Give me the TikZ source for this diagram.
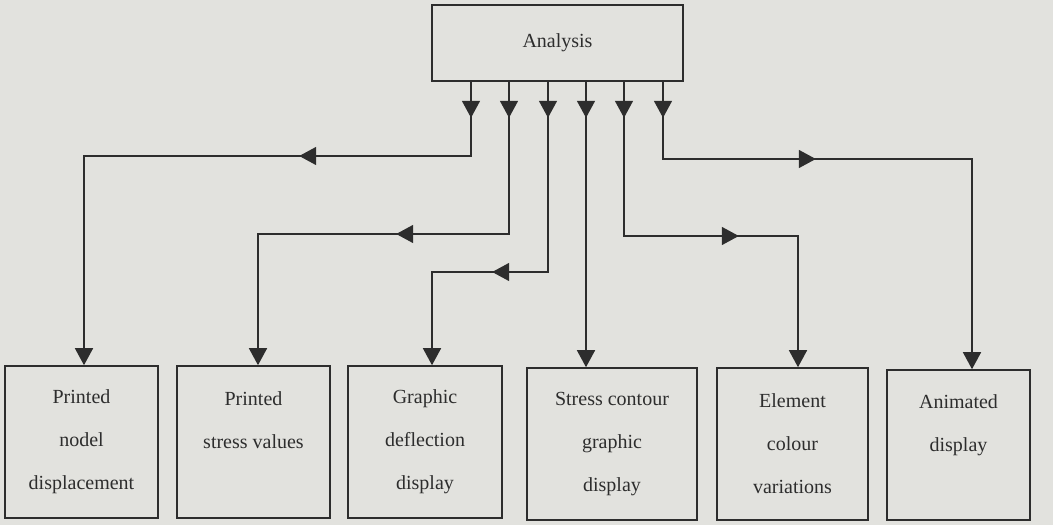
\documentclass[tikz,border=0pt]{standalone}
\usepackage{fontspec}
\setmainfont{Liberation Serif}
\usetikzlibrary{arrows.meta,decorations.markings}
\definecolor{bg}{RGB}{226,226,222}
\definecolor{ink}{RGB}{45,45,45}
\begin{document}
\begin{tikzpicture}[x=1pt,y=1pt,
  box/.style={draw=ink, line width=1.6pt, minimum height=152pt, inner sep=0pt,
    align=center, font=\fontsize{20}{43}\selectfont, text=ink},
  topbox/.style={draw=ink, line width=1.6pt, minimum width=251pt, minimum height=76pt,
    inner sep=0pt, font=\fontsize{20}{24}\selectfont, text=ink},
  conn/.style={color=ink, line width=1.6pt, -{Triangle[width=18pt,length=17pt]}},
  onetip/.style={postaction={decorate}, decoration={markings,
    mark=at position #1 with {\arrow{Triangle[width=18pt,length=17pt]}}}},
  twotips/.style 2 args={postaction={decorate}, decoration={markings,
    mark=at position #1 with {\arrow{Triangle[width=18pt,length=17pt]}},
    mark=at position #2 with {\arrow{Triangle[width=18pt,length=17pt]}}}},
]
\fill[bg] (0,0) rectangle (1053,525);
\useasboundingbox (0,0) rectangle (1053,525);

\node[topbox] (A) at (557.5,482) {Analysis};

\node[box, minimum width=153pt] (b1) at (81.5,83) {Printed\\nodel\\displacement};
\node[box, minimum width=153pt] (b2) at (253.5,83) {Printed\\stress values\\\mbox{}};
\node[box, minimum width=154pt] (b3) at (425,83) {Graphic\\deflection\\display};
\node[box, minimum width=170pt] (b4) at (612,81) {Stress contour\\graphic\\display};
\node[box, minimum width=151pt] (b5) at (792.5,81) {Element\\colour\\variations};
\node[box, minimum width=143pt, minimum height=150pt] (b6) at (958.5,80) {Animated\\display\\\mbox{}};

\coordinate (x1) at (471,0);
\coordinate (x2) at (509,0);
\coordinate (x3) at (548,0);
\coordinate (x4) at (586,0);
\coordinate (x5) at (624,0);
\coordinate (x6) at (663,0);

\coordinate (t1) at (84,369);
\coordinate (t2) at (258,291);
\coordinate (t3) at (432,253);
\coordinate (t5) at (798,289);
\coordinate (t6) at (972,366);

\draw[conn, twotips={36pt}{246pt}] (A.south -| x1) |- (t1) -- (t1 |- b1.north);
\draw[conn, twotips={36pt}{265pt}] (A.south -| x2) |- (t2) -- (t2 |- b2.north);
\draw[conn, twotips={36pt}{246pt}] (A.south -| x3) |- (t3) -- (t3 |- b3.north);
\draw[conn, onetip={36pt}] (A.south -| x4) -- (x4 |- b4.north);
\draw[conn, twotips={36pt}{269pt}] (A.south -| x5) |- (t5) -- (t5 |- b5.north);
\draw[conn, twotips={36pt}{230pt}] (A.south -| x6) |- (t6) -- (t6 |- b6.north);
\end{tikzpicture}
\end{document}
